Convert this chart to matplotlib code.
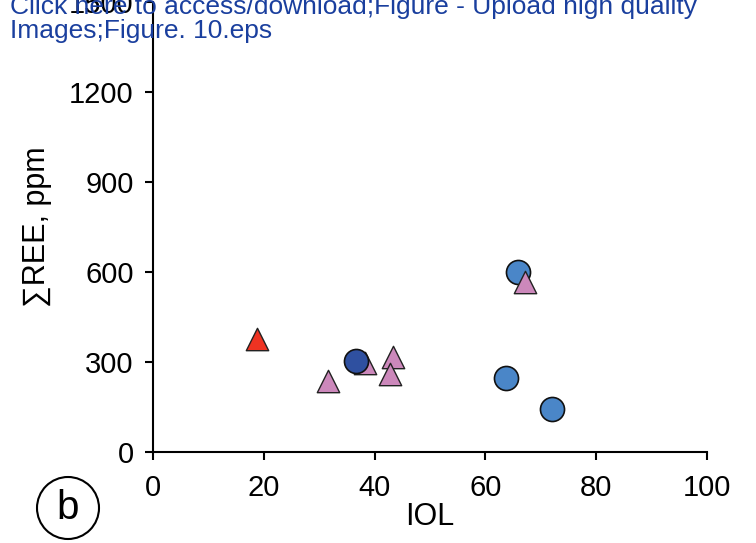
import numpy as np
from matplotlib import pyplot as plt

plt.rcParams['font.family'] = ['Liberation Sans', 'DejaVu Sans']

# light blue circles
circ_x = [65.9, 63.7, 72.0]
circ_y = [600, 245, 143]
# dark blue circle
dark_x = [36.6]
dark_y = [302]
# pink triangles
tri_x = [38.2, 31.6, 43.3, 42.8, 67.2]
tri_y = [298, 235, 315, 260, 565]
# red triangle
red_x = [18.7]
red_y = [378]

xticks = [0, 20, 40, 60, 80, 100]
yticks = [0, 300, 600, 900, 1200, 1500]

fig = plt.figure(figsize=(7.56, 5.43), dpi=100)
ax = fig.add_axes([0.2024, 0.1676, 0.7328, 0.8287])

ax.scatter(tri_x, tri_y, marker='^', s=260, c='#cc88bb', edgecolors='#222222', linewidths=1.0, zorder=3)
ax.scatter(circ_x, circ_y, marker='o', s=300, c='#4a86c8', edgecolors='#111111', linewidths=1.2, zorder=2.5)
ax.scatter(dark_x, dark_y, marker='o', s=300, c='#2f50a0', edgecolors='#111111', linewidths=1.2, zorder=4)
ax.scatter(red_x, red_y, marker='^', s=260, c='#ee3322', edgecolors='#222222', linewidths=1.0, zorder=3)

ax.set_xlim(0, 100)
ax.set_ylim(0, 1500)
ax.set_xticks(xticks)
ax.set_yticks(yticks)
for s in ['top', 'right']:
    ax.spines[s].set_visible(False)
for s in ['left', 'bottom']:
    ax.spines[s].set_linewidth(1.5)
ax.tick_params(direction='out', length=6, width=1.5, labelsize=21)
ax.tick_params(axis='x', pad=10)
ax.tick_params(axis='y', pad=8)
ax.set_xlabel('IOL', fontsize=22, labelpad=0)
ax.set_ylabel('∑REE, ppm', fontsize=22, labelpad=12)

circ = plt.Circle((68, 543 - 508), 31, transform=None, fill=False, lw=1.5, color='black')
fig.add_artist(circ)
fig.text(68 / 756, 1 - 508 / 543, 'b', fontsize=29, ha='center', va='center')

fig.text(10 / 756, 1 - 19 / 543, 'Click here to access/download;Figure - Upload high quality\nImages;Figure. 10.eps',
         color='#1a3f9e', fontsize=19, ha='left', va='center', linespacing=0.95, zorder=10)

plt.savefig('out.png', dpi=100)
